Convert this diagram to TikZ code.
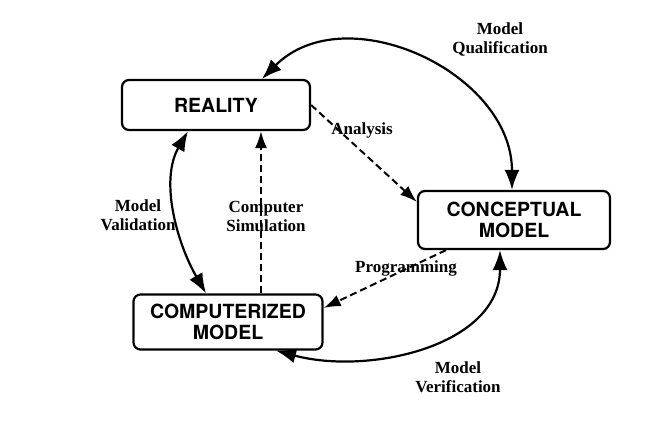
\documentclass[tikz,border=0pt]{standalone}
\usepackage{fontspec}
\setmainfont{Liberation Serif}
\setsansfont{TeX Gyre Heros}
\usepackage{tikz}
\usetikzlibrary{arrows.meta}
\usetikzlibrary{positioning}

\tikzset{
  stage/.style={draw,line width=2.2pt,rounded corners=7pt,align=center,font=\sffamily\bfseries\fontsize{19.5}{21}\selectfont,inner sep=4pt},
  lbl/.style={align=center,font=\rmfamily\bfseries\fontsize{17}{19}\selectfont},
  loop/.style={line width=2.2pt,{Latex[length=20pt,width=15pt]}-{Latex[length=20pt,width=15pt]}},
  flow/.style={line width=2pt,dash pattern=on 7pt off 4pt,-{Latex[length=17pt,width=12pt]}}
}

\begin{document}
\begin{tikzpicture}[x=1pt,y=1pt]
			\useasboundingbox (0,0) rectangle (648,432);
			\node[stage,minimum width=188,minimum height=50](real) at (216,327){REALITY};
			\node[stage,minimum width=192,minimum height=58](concept) at (514,212){CONCEPTUAL\\MODEL};
			\node[stage,minimum width=189,minimum height=55](comp) at (228,110){COMPUTERIZED\\MODEL};
			% outer cycle
			\draw[loop] ([xshift=46]real.north) to[out=45,in=90,looseness=1.1] ([xshift=-2]concept.north);
			\draw[loop] ([xshift=48]comp.south) to[out=-15,in=-90,looseness=1.0] ([xshift=-14]concept.south);
			\draw[loop] ([xshift=-28]real.south) to[out=-120,in=120,looseness=0.9] ([xshift=-22]comp.north);
			\node[lbl] at (500,393){Model\\Qualification};
			\node[lbl] at (458,55){Model\\Verification};
			\node[lbl] at (138,217){Model\\Validation};
			% inner flow
			\draw[flow] (real.east) -- ([yshift=18]concept.west);
			\draw[flow] ([xshift=33]comp.north) -- ([xshift=45]real.south);
			\draw[flow] ([xshift=-68]concept.south) -- ([yshift=14]comp.east);
			\node[lbl] at (362,302){Analysis};
			\node[lbl] at (266,216){Computer\\Simulation};
			\node[lbl] at (406,164){Programming};
		\end{tikzpicture}
\end{document}
